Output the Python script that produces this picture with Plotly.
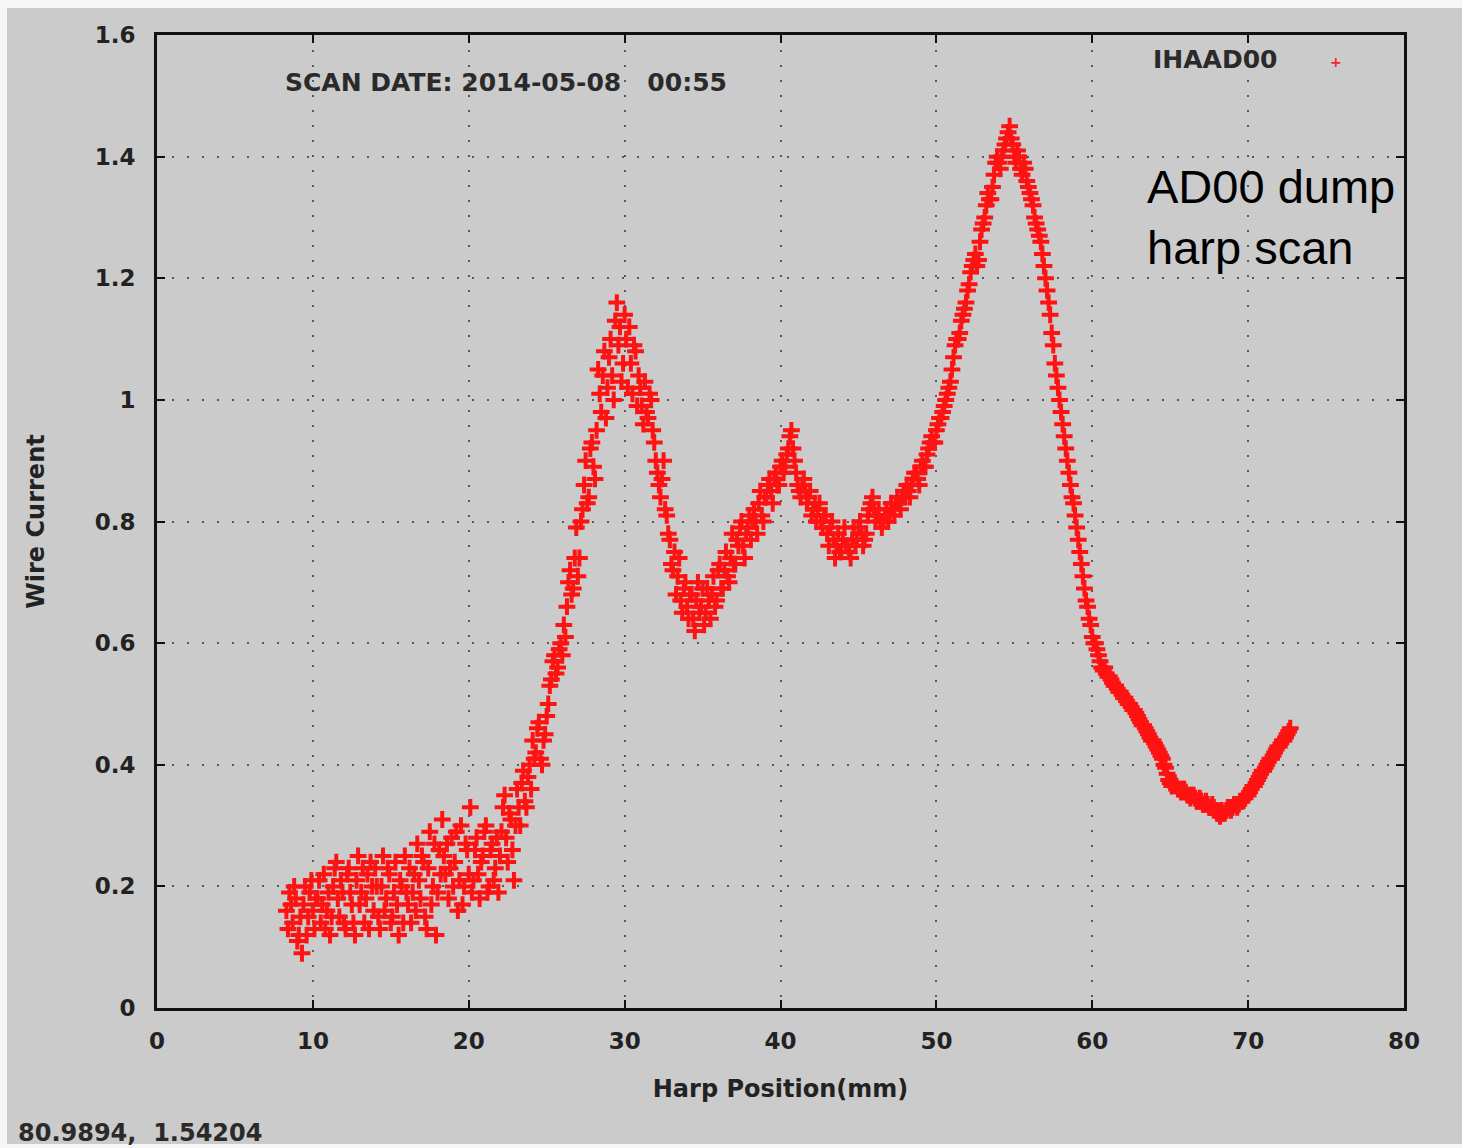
import plotly.graph_objects as go

# Harp scan: wire current sampled every 0.1 mm from 8.3 mm to 72.7 mm
x_start = 8.3
x_step = 0.1
current = [
    # 8.3 - 10.2
    0.16, 0.13, 0.19, 0.17, 0.14, 0.20, 0.18, 0.11, 0.12, 0.15,
    0.09, 0.17, 0.20, 0.12, 0.15, 0.19, 0.21, 0.16, 0.13, 0.18,
    # 10.3 - 12.2
    0.18, 0.21, 0.14, 0.17, 0.22, 0.13, 0.16, 0.19, 0.12, 0.15,
    0.20, 0.23, 0.24, 0.18, 0.15, 0.21, 0.19, 0.14, 0.13, 0.22,
    # 12.3 - 14.2
    0.23, 0.19, 0.17, 0.14, 0.12, 0.21, 0.25, 0.17, 0.19, 0.23,
    0.14, 0.18, 0.22, 0.13, 0.24, 0.20, 0.16, 0.23, 0.20, 0.15,
    # 14.3 - 16.2
    0.13, 0.20, 0.25, 0.16, 0.18, 0.23, 0.22, 0.14, 0.15, 0.19,
    0.24, 0.17, 0.12, 0.21, 0.20, 0.14, 0.25, 0.19, 0.17, 0.23,
    # 16.3 - 18.2
    0.14, 0.19, 0.22, 0.16, 0.27, 0.21, 0.18, 0.25, 0.24, 0.15,
    0.13, 0.23, 0.29, 0.17, 0.20, 0.27, 0.12, 0.19, 0.26, 0.22,
    # 18.3 - 20.2
    0.31, 0.25, 0.22, 0.27, 0.18, 0.23, 0.28, 0.20, 0.24, 0.29,
    0.16, 0.21, 0.30, 0.17, 0.20, 0.27, 0.26, 0.22, 0.33, 0.19,
    # 20.3 - 22.2
    0.21, 0.26, 0.28, 0.22, 0.18, 0.24, 0.25, 0.29, 0.30, 0.19,
    0.20, 0.26, 0.27, 0.21, 0.23, 0.28, 0.19, 0.25, 0.29, 0.33,
    # 22.3 - 24.2
    0.35, 0.28, 0.24, 0.32, 0.31, 0.26, 0.21, 0.30, 0.36, 0.33,
    0.30, 0.37, 0.39, 0.34, 0.33, 0.38, 0.40, 0.36, 0.44, 0.41,
    # 24.3 - 26.2
    0.42, 0.46, 0.47, 0.41, 0.40, 0.44, 0.45, 0.48, 0.50, 0.53,
    0.54, 0.57, 0.58, 0.55, 0.56, 0.59, 0.60, 0.58, 0.63, 0.61,
    # 26.3 - 28.2
    0.66, 0.70, 0.72, 0.68, 0.69, 0.74, 0.79, 0.71, 0.74, 0.80,
    0.82, 0.86, 0.90, 0.83, 0.84, 0.92, 0.93, 0.89, 0.87, 0.95,
    # 28.3 - 30.2
    1.05, 1.01, 0.98, 1.04, 1.08, 0.97, 1.02, 1.07, 1.10, 1.04,
    1.00, 1.13, 1.16, 1.09, 1.12, 1.03, 1.06, 1.14, 1.10, 1.02,
    # 30.3 - 32.2
    1.12, 1.06, 1.01, 1.09, 1.08, 0.99, 1.04, 1.02, 0.99, 0.96,
    1.03, 0.98, 0.97, 1.01, 1.00, 0.95, 0.93, 0.90, 0.88, 0.86,
    # 32.3 - 34.2
    0.84, 0.87, 0.90, 0.82, 0.81, 0.78, 0.77, 0.73, 0.72, 0.75,
    0.68, 0.71, 0.74, 0.67, 0.65, 0.69, 0.70, 0.66, 0.64, 0.68,
    # 34.3 - 36.2
    0.68, 0.64, 0.62, 0.67, 0.70, 0.65, 0.66, 0.69, 0.63, 0.65,
    0.69, 0.67, 0.64, 0.68, 0.71, 0.66, 0.67, 0.72, 0.73, 0.69,
    # 36.3 - 38.2
    0.69, 0.72, 0.75, 0.71, 0.70, 0.74, 0.78, 0.73, 0.73, 0.77,
    0.76, 0.79, 0.80, 0.76, 0.74, 0.78, 0.79, 0.81, 0.77, 0.80,
    # 38.3 - 40.2
    0.82, 0.80, 0.78, 0.83, 0.85, 0.81, 0.80, 0.84, 0.84, 0.86,
    0.87, 0.85, 0.83, 0.87, 0.88, 0.86, 0.86, 0.89, 0.90, 0.88,
    # 40.3 - 42.2
    0.89, 0.91, 0.92, 0.94, 0.95, 0.92, 0.90, 0.88, 0.86, 0.85,
    0.84, 0.86, 0.87, 0.85, 0.83, 0.84, 0.85, 0.81, 0.82, 0.83,
    # 42.3 - 44.2
    0.80, 0.82, 0.83, 0.80, 0.79, 0.81, 0.81, 0.78, 0.76, 0.79,
    0.80, 0.77, 0.74, 0.76, 0.78, 0.75, 0.75, 0.77, 0.79, 0.76,
    # 44.3 - 46.2
    0.76, 0.75, 0.74, 0.77, 0.79, 0.76, 0.77, 0.79, 0.80, 0.78,
    0.76, 0.77, 0.78, 0.81, 0.82, 0.83, 0.84, 0.82, 0.80, 0.81,
    # 46.3 - 48.2
    0.82, 0.80, 0.79, 0.80, 0.81, 0.82, 0.80, 0.81, 0.83, 0.82,
    0.81, 0.83, 0.84, 0.83, 0.82, 0.84, 0.85, 0.84, 0.86, 0.85,
    # 48.3 - 50.2
    0.84, 0.86, 0.87, 0.88, 0.88, 0.87, 0.86, 0.89, 0.90, 0.89,
    0.89, 0.91, 0.92, 0.93, 0.94, 0.93, 0.93, 0.95, 0.96, 0.97,
    # 50.3 - 52.2
    0.97, 0.98, 0.99, 1.00, 1.01, 1.02, 1.03, 1.05, 1.07, 1.09,
    1.10, 1.10, 1.11, 1.13, 1.14, 1.15, 1.16, 1.18, 1.19, 1.21,
    # 52.3 - 54.2
    1.22, 1.23, 1.24, 1.22, 1.23, 1.26, 1.28, 1.29, 1.30, 1.32,
    1.34, 1.33, 1.33, 1.35, 1.37, 1.39, 1.40, 1.39, 1.38, 1.40,
    # 54.3 - 56.2
    1.41, 1.42, 1.43, 1.44, 1.45, 1.43, 1.42, 1.40, 1.39, 1.41,
    1.40, 1.38, 1.37, 1.39, 1.38, 1.36, 1.35, 1.34, 1.33, 1.32,
    # 56.3 - 58.2
    1.30, 1.29, 1.28, 1.27, 1.26, 1.24, 1.22, 1.20, 1.18, 1.16,
    1.14, 1.11, 1.09, 1.06, 1.04, 1.02, 1.00, 0.98, 0.96, 0.94,
    # 58.3 - 60.2
    0.92, 0.90, 0.88, 0.86, 0.84, 0.83, 0.81, 0.79, 0.77, 0.75,
    0.73, 0.71, 0.69, 0.67, 0.66, 0.64, 0.63, 0.61, 0.60, 0.60,
    # 60.3 - 62.2
    0.59, 0.58, 0.57, 0.56, 0.555, 0.56, 0.55, 0.545, 0.545, 0.54,
    0.535, 0.53, 0.53, 0.525, 0.52, 0.52, 0.515, 0.51, 0.51, 0.505,
    # 62.3 - 64.2
    0.50, 0.50, 0.495, 0.49, 0.49, 0.485, 0.48, 0.475, 0.47, 0.465,
    0.465, 0.46, 0.455, 0.45, 0.445, 0.44, 0.44, 0.435, 0.43, 0.425,
    # 64.3 - 66.2
    0.42, 0.415, 0.41, 0.40, 0.395, 0.385, 0.375, 0.37, 0.365, 0.37,
    0.37, 0.365, 0.36, 0.36, 0.355, 0.36, 0.36, 0.355, 0.35, 0.35,
    # 66.3 - 68.2
    0.345, 0.35, 0.35, 0.345, 0.34, 0.34, 0.345, 0.34, 0.335, 0.335,
    0.34, 0.335, 0.33, 0.33, 0.335, 0.33, 0.325, 0.32, 0.32, 0.315,
    # 68.3 - 70.2
    0.325, 0.32, 0.32, 0.325, 0.33, 0.33, 0.325, 0.33, 0.335, 0.335,
    0.33, 0.335, 0.34, 0.34, 0.345, 0.345, 0.35, 0.35, 0.355, 0.36,
    # 70.3 - 72.2
    0.365, 0.365, 0.37, 0.375, 0.38, 0.385, 0.39, 0.39, 0.395, 0.40,
    0.405, 0.41, 0.41, 0.415, 0.42, 0.425, 0.43, 0.43, 0.435, 0.44,
    # 72.3 - 72.7
    0.44, 0.445, 0.45, 0.455, 0.46,
]
position = [round(x_start + i * x_step, 2) for i in range(len(current))]

x_ticks = [0, 10, 20, 30, 40, 50, 60, 70, 80]
y_ticks = [0, 0.2, 0.4, 0.6, 0.8, 1.0, 1.2, 1.4, 1.6]
y_tick_text = ["0", "0.2", "0.4", "0.6", "0.8", "1", "1.2", "1.4", "1.6"]

series_name = "IHAAD00"
scan_date = "SCAN DATE: 2014-05-08   00:55"
cursor_readout = "80.9894,  1.54204"

BG = "#cbcbcb"
INK = "#222222"
FONT = "DejaVu Sans, Verdana, sans-serif"

fig = go.Figure()
fig.add_trace(go.Scatter(
    x=position, y=current, mode="markers", name=series_name,
    marker=dict(symbol="cross-thin", size=12,
                line=dict(width=4, color="#ff1212"), color="#ff1212"),
    showlegend=False,
))

axis_common = dict(
    showline=True, linecolor="#111111", linewidth=3, mirror="ticks",
    ticks="inside", ticklen=8, tickwidth=2, tickcolor="#111111",
    showgrid=True, gridcolor="#5a5a5a", gridwidth=2, griddash="2px,13px",
    zeroline=False,
    tickfont=dict(family=FONT, size=23, color=INK, weight="bold"),
)

fig.update_xaxes(
    range=[0, 80], tickvals=x_ticks, ticklabelstandoff=10,
    title=dict(text="Harp Position(mm)", standoff=28,
               font=dict(family=FONT, size=24, color=INK, weight="bold")),
    **axis_common,
)
fig.update_yaxes(
    range=[0, 1.6], tickvals=y_ticks, ticktext=y_tick_text,
    ticklabelstandoff=14,
    title=dict(text="Wire Current", standoff=44,
               font=dict(family=FONT, size=24, color=INK, weight="bold")),
    **axis_common,
)

# pixel -> paper helpers for the fixed 1462x1148 canvas
L, R, T, B = 157, 58, 35, 140
W, H = 1462, 1148
pw, ph = W - L - R, H - T - B


def px(xp):
    return (xp - L) / pw


def py(yp):
    return (H - B - yp) / ph


annotations = [
    dict(text=scan_date, x=px(283), y=py(82), xref="paper", yref="paper",
         xanchor="left", yanchor="middle", showarrow=False,
         font=dict(family=FONT, size=25, color="#2a2a2a", weight="bold")),
    dict(text=series_name, x=px(1279), y=py(60), xref="paper", yref="paper",
         xanchor="right", yanchor="middle", showarrow=False,
         font=dict(family=FONT, size=25, color="#2a2a2a", weight="bold")),
    dict(text="+", x=px(1336), y=py(62), xref="paper", yref="paper",
         xanchor="center", yanchor="middle", showarrow=False,
         font=dict(family=FONT, size=14, color="#ff2020", weight="bold")),
    dict(text="AD00 dump<br>harp scan", x=px(1145), y=py(217),
         xref="paper", yref="paper", xanchor="left", yanchor="middle",
         align="left", showarrow=False,
         font=dict(family="Liberation Sans, Arial, sans-serif", size=47,
                   color="#000000")),
    dict(text=cursor_readout, x=px(16), y=py(1133), xref="paper", yref="paper",
         xanchor="left", yanchor="middle", showarrow=False,
         font=dict(family=FONT, size=24, color="#2a2a2a", weight="bold")),
]

shapes = [
    dict(type="rect", xref="paper", yref="paper", layer="below",
         x0=px(7), x1=px(W), y0=py(1144), y1=py(8),
         fillcolor=BG, line=dict(width=0)),
]

fig.update_layout(
    width=W, height=H,
    margin=dict(l=L, r=R, t=T, b=B, autoexpand=False),
    paper_bgcolor="#f6f6f6", plot_bgcolor=BG,
    annotations=annotations, shapes=shapes,
    font=dict(family=FONT, color=INK),
)

fig.write_html("out.html")
